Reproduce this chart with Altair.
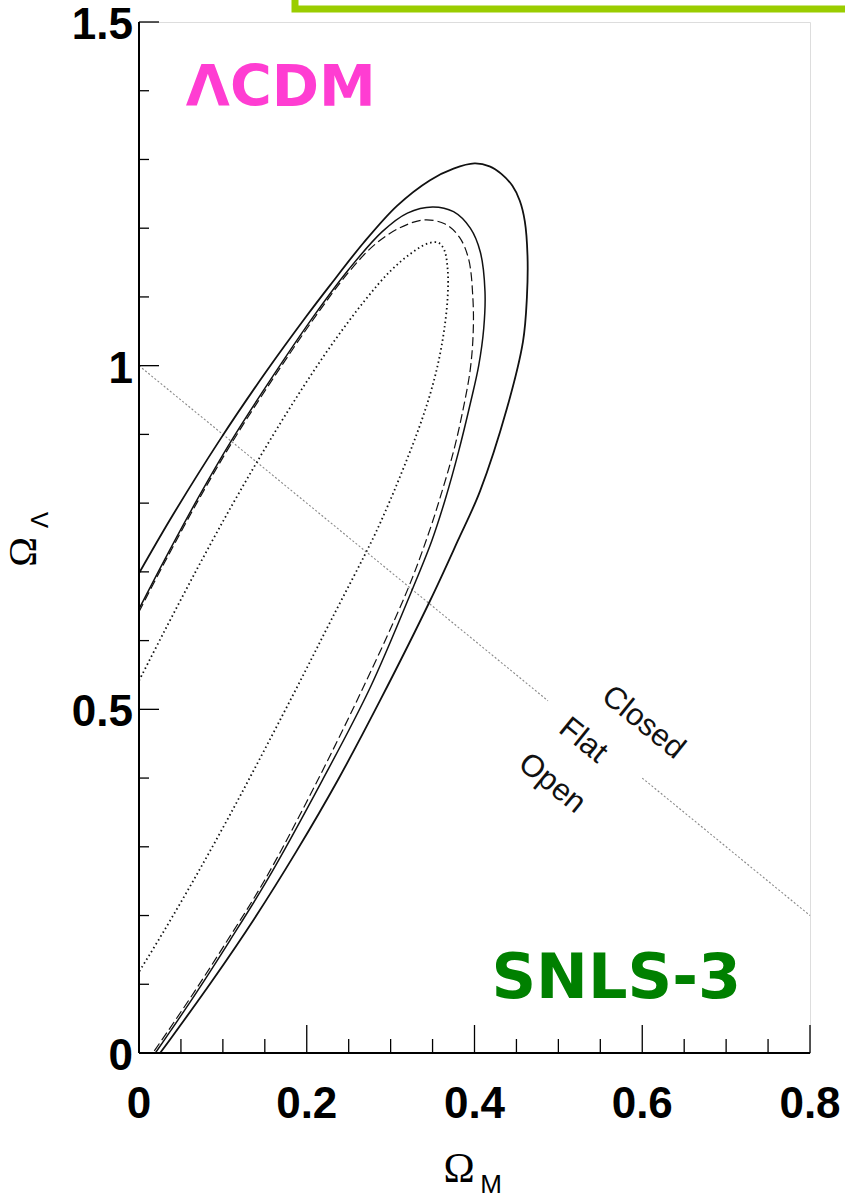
import altair as alt
import pandas as pd

# ---- contour traces (Omega_M, Omega_Lambda) ----
outer_x = [0.0, 0.04, 0.0966, 0.15, 0.20, 0.2277, 0.267, 0.3076, 0.347, 0.375, 0.40, 0.418, 0.432,
           0.445, 0.454, 0.460, 0.4632, 0.4625, 0.4578, 0.4387, 0.4066, 0.380, 0.347, 0.2873,
           0.2373, 0.1873, 0.1373, 0.0873, 0.0373, 0.0251]
outer_y = [0.698, 0.782, 0.8924, 0.9885, 1.0725, 1.1168, 1.1777, 1.2325, 1.2699, 1.2867, 1.2942, 1.29,
           1.279, 1.262, 1.24, 1.21, 1.16, 1.10, 1.035, 0.938, 0.8175, 0.745, 0.658, 0.5126,
           0.3976, 0.2926, 0.1951, 0.1051, 0.0201, 0.0]

inner_x = [0.0, 0.03, 0.07, 0.11, 0.16, 0.21, 0.25, 0.29, 0.32, 0.35, 0.375, 0.395, 0.407, 0.4125,
           0.411, 0.405, 0.395, 0.381, 0.365, 0.349, 0.3267, 0.2754, 0.2182, 0.1526, 0.1085,
           0.069, 0.037, 0.0195]
inner_y = [0.646, 0.7165, 0.8065, 0.8905, 0.9855, 1.075, 1.14, 1.195, 1.222, 1.231, 1.224, 1.20, 1.165,
           1.108, 1.054, 1.0, 0.945, 0.875, 0.805, 0.745, 0.677, 0.531, 0.396, 0.251, 0.164,
           0.089, 0.031, 0.0]

dashed_x = [0.0, 0.03, 0.07, 0.11, 0.16, 0.21, 0.25, 0.28, 0.31, 0.34, 0.365, 0.382, 0.393, 0.398,
            0.3985, 0.395, 0.387, 0.376, 0.362, 0.345, 0.3195, 0.267, 0.206, 0.1496, 0.1055,
            0.066, 0.034, 0.0165]
dashed_y = [0.642, 0.7125, 0.8025, 0.8865, 0.9815, 1.071, 1.136, 1.175, 1.200, 1.212, 1.206, 1.187,
            1.155, 1.10, 1.05, 0.995, 0.94, 0.88, 0.82, 0.755, 0.672, 0.531, 0.380, 0.251, 0.164,
            0.089, 0.031, 0.0]

dotted_x = [0.0, 0.03, 0.07, 0.11, 0.15, 0.19, 0.23, 0.27, 0.30, 0.325, 0.345, 0.357, 0.364, 0.368,
            0.368, 0.3636, 0.356, 0.345, 0.331, 0.315, 0.298, 0.2795, 0.23, 0.19, 0.15, 0.11,
            0.07, 0.03, 0.0]
dotted_y = [0.5416, 0.613, 0.706, 0.795, 0.879, 0.958, 1.031, 1.096, 1.138, 1.164, 1.178, 1.179, 1.168,
            1.14, 1.10, 1.05, 1.0, 0.95, 0.90, 0.85, 0.80, 0.75, 0.632, 0.536, 0.442, 0.35,
            0.262, 0.178, 0.118]

# flat-universe line (Omega_M + Omega_Lambda = 1), with a gap for the labels
flat_x1 = [0.0, 0.60]
flat_y1 = [1.0, 0.40]
flat_x2 = [0.4876, 0.80]
flat_y2 = [0.5124, 0.20]

region_labels = ["Closed", "Flat", "Open"]
region_x = [0.601, 0.5294, 0.4923]
region_y = [0.4806, 0.4545, 0.392]

x_major = [0.0, 0.2, 0.4, 0.6, 0.8]
x_labels = ["0", "0.2", "0.4", "0.6", "0.8"]
x_minor = [0.05, 0.1, 0.15, 0.25, 0.3, 0.35, 0.45, 0.5, 0.55, 0.65, 0.7, 0.75]
y_major = [0.0, 0.5, 1.0, 1.5]
y_labels = ["0", "0.5", "1", "1.5"]
y_minor = [0.1, 0.2, 0.3, 0.4, 0.6, 0.7, 0.8, 0.9, 1.1, 1.2, 1.3, 1.4]

W, H = 671, 1031
xs = alt.Scale(domain=[0, 0.8], nice=False, zero=False)
ys = alt.Scale(domain=[0, 1.5], nice=False, zero=False)
lab_font = "Liberation Sans"


def X(field):
    return alt.X(field, scale=xs, axis=None)


def Y(field):
    return alt.Y(field, scale=ys, axis=None)


def path_df(xv, yv):
    return pd.DataFrame({"om": xv, "ol": yv, "i": list(range(len(xv)))})


def contour(xv, yv, width, dash=None):
    kw = dict(color="#111111", strokeWidth=width, clip=True, interpolate="catmull-rom")
    if dash:
        kw["strokeDash"] = dash
    return alt.Chart(path_df(xv, yv)).mark_line(**kw).encode(
        x=X("om:Q"), y=Y("ol:Q"), order=alt.Order("i:Q"))


c_outer = contour(outer_x, outer_y, 1.8)
c_inner = contour(inner_x, inner_y, 1.5)
c_dash = contour(dashed_x, dashed_y, 1.2, [9, 4])
c_dot = contour(dotted_x, dotted_y, 1.8, [1.5, 3])

flat_df = pd.DataFrame({"om": flat_x1, "ol": flat_y1, "om2": flat_x2, "ol2": flat_y2})
flat = alt.Chart(flat_df).mark_rule(color="#888888", strokeWidth=1.1, strokeDash=[2, 2]).encode(
    x=X("om:Q"), y=Y("ol:Q"), x2="om2:Q", y2="ol2:Q")

reg_df = pd.DataFrame({"om": region_x, "ol": region_y, "t": region_labels})
regions = alt.Chart(reg_df).mark_text(angle=39, font=lab_font, fontSize=31, color="#111111",
                                      align="center", baseline="middle").encode(
    x=X("om:Q"), y=Y("ol:Q"), text="t:N")


# inward tick marks
def xticks(vals, length):
    return alt.Chart(pd.DataFrame({"t": vals})).mark_rule(color="black", strokeWidth=1.3).encode(
        x=X("t:Q"), y=alt.value(H), y2=alt.value(H - length))


def yticks(vals, length):
    return alt.Chart(pd.DataFrame({"t": vals})).mark_rule(color="black", strokeWidth=1.3).encode(
        y=Y("t:Q"), x=alt.value(0), x2=alt.value(length))


ticks = [xticks(x_major, 28), xticks(x_minor, 14), yticks(y_major, 20), yticks(y_minor, 10)]

# tick labels
xlab = alt.Chart(pd.DataFrame({"t": x_major, "s": x_labels})).mark_text(
    font=lab_font, fontWeight="bold", fontSize=44, color="black", align="center",
    baseline="top").encode(x=X("t:Q"), y=alt.value(H + 30), text="s:N")
ylab = alt.Chart(pd.DataFrame({"t": y_major, "s": y_labels})).mark_text(
    font=lab_font, fontWeight="bold", fontSize=44, color="black", align="right",
    baseline="middle", dy=4).encode(y=Y("t:Q"), x=alt.value(-6), text="s:N")

# left / bottom axis lines (slightly heavier than the frame)
one = pd.DataFrame({"a": [0]})
left_line = alt.Chart(one).mark_rule(color="black", strokeWidth=2).encode(
    x=alt.value(0), y=alt.value(0), y2=alt.value(H))
bottom_line = alt.Chart(one).mark_rule(color="black", strokeWidth=2).encode(
    x=alt.value(0), x2=alt.value(W), y=alt.value(H))

# annotations
lcdm_df = pd.DataFrame({"om": [0.169], "ol": [1.403], "t": ["ΛCDM"]})
lcdm = alt.Chart(lcdm_df).mark_text(font="DejaVu Sans", fontWeight="bold", fontSize=57,
                                    color="#ff3dd2", align="center", baseline="middle").encode(
    x=X("om:Q"), y=Y("ol:Q"), text="t:N")

snls_df = pd.DataFrame({"om": [0.569], "ol": [0.1075], "t": ["SNLS-3"]})
snls = alt.Chart(snls_df).mark_text(font="DejaVu Sans", fontWeight="bold", fontSize=62,
                                    color="#008000", align="center", baseline="middle").encode(
    x=X("om:Q"), y=Y("ol:Q"), text="t:N")

# axis titles (Omega with subscripts)
xt_omega = alt.Chart(one).mark_text(font="Liberation Serif", fontSize=42, color="black",
                                    align="center", baseline="alphabetic").encode(
    x=alt.value(320), y=alt.value(1160), text=alt.value("Ω"))
xt_sub = alt.Chart(one).mark_text(font=lab_font, fontSize=26, color="black",
                                  align="center", baseline="alphabetic").encode(
    x=alt.value(352), y=alt.value(1171), text=alt.value("M"))
yt_omega = alt.Chart(one).mark_text(font="Liberation Serif", fontSize=40, color="black", angle=270,
                                    align="center", baseline="middle").encode(
    x=alt.value(-115), y=alt.value(530), text=alt.value("Ω"))
yt_sub = alt.Chart(one).mark_text(font=lab_font, fontSize=24, color="black", angle=270,
                                  align="center", baseline="middle").encode(
    x=alt.value(-98), y=alt.value(498), text=alt.value("Λ"))

# yellow-green frame at the top of the page
green = alt.Chart(one).mark_rect(fillOpacity=0, stroke="#9acd00", strokeWidth=7).encode(
    x=alt.value(156), x2=alt.value(780), y=alt.value(-80), y2=alt.value(-13))

chart = alt.layer(
    flat, c_dot, c_dash, c_inner, c_outer, regions, *ticks, left_line, bottom_line,
    xlab, ylab, lcdm, snls, xt_omega, xt_sub, yt_omega, yt_sub, green
).properties(
    width=W, height=H,
    autosize=alt.AutoSizeParams(type="none"),
    padding={"left": 139, "top": 22, "right": 35, "bottom": 145},
).configure_view(stroke="black", strokeWidth=1.5).configure(background="white")

chart.save("out.html", embed_options={"renderer": "svg", "actions": False})
